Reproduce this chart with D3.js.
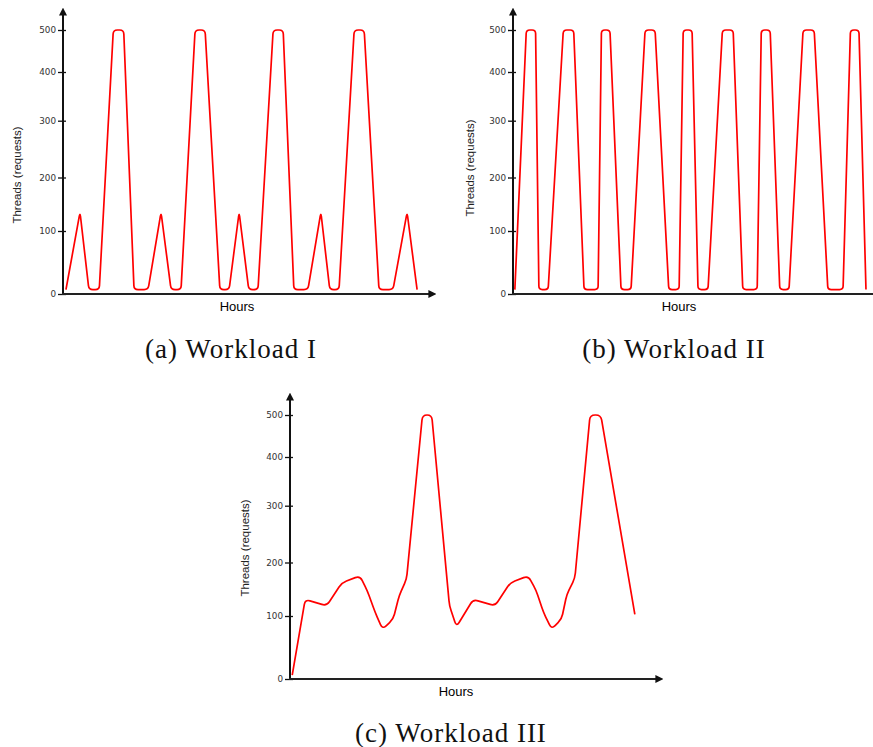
<!DOCTYPE html>
<html>
<head>
<meta charset="utf-8">
<script src="https://cdn.jsdelivr.net/npm/d3@7"></script>
<style>
  body { margin: 0; background: #fff; }
  svg { display: block; }
  .tick text { font-family: "DejaVu Sans", sans-serif; font-size: 8.8px; fill: #333; }
  .ylabel { font-family: "Liberation Sans", Arial, sans-serif; font-size: 11.5px; fill: #222; }
  .xlabel { font-family: "Liberation Sans", Arial, sans-serif; font-size: 13px; fill: #000; }
  .caption { font-family: "Liberation Serif", "Times New Roman", serif; font-size: 27px; letter-spacing: 1px; fill: #111; }
</style>
</head>
<body>
<div id="chartDiv"></div>
<script>
var width = 873;
var height = 747;

// y tick values
var yTicks = [0, 100, 200, 300, 400, 500];

// Workload I (hours as % of the horizon, threads)
var hoursA = [0.8, 4.6, 7.0, 9.8, 13.6, 16.4, 19.2, 23.0, 26.5, 29.2, 31.9, 35.7, 38.4, 42.4, 44.9, 47.6,
              50.2, 52.7, 56.8, 59.5, 62.4, 66.2, 69.7, 72.1, 74.6, 78.7, 81.4, 85.4, 89.2, 93.0, 95.7];
var threadsA = [7, 135, 7, 7, 500, 500, 7, 7, 135, 7, 7, 500, 500, 7, 7, 135,
                7, 7, 500, 500, 7, 7, 135, 7, 7, 500, 500, 7, 7, 135, 7];

// Workload II
var hoursB = [0.5, 3.6, 6.1, 7.0, 9.5, 13.6, 16.4, 19.2, 23.0, 23.9, 26.2, 29.2, 31.9, 35.7, 38.4, 42.1, 44.9,
              46.0, 48.4, 50.0, 52.7, 56.6, 59.5, 62.1, 66.0, 67.1, 69.5, 72.1, 74.6, 78.4, 81.4, 85.1, 89.2,
              91.2, 93.5, 95.4];
var threadsB = [7, 500, 500, 7, 7, 500, 500, 7, 7, 500, 500, 7, 7, 500, 500, 7, 7,
                500, 500, 7, 7, 500, 500, 7, 7, 500, 500, 7, 7, 500, 500, 7, 7,
                500, 500, 7];

// Workload III
var hoursC = [0.6, 4.1, 9.9, 14.0, 18.9, 20.9, 23.0, 25.0, 27.9, 29.5, 31.5, 35.8, 38.3, 43.1,
              45.0, 49.5, 55.4, 59.5, 64.4, 66.5, 68.5, 70.7, 73.4, 74.8, 77.0, 81.1, 84.0, 93.2];
var threadsC = [6, 131, 119, 162, 175, 147, 107, 79, 95, 138, 169, 500, 500, 119,
                83, 131, 119, 162, 175, 148, 107, 79, 95, 140, 171, 500, 500, 103];

var panels = [
  { hours: hoursA, threads: threadsA, x0: 63, y0: 294, arrowX: true, caption: "(a) Workload I",
    labelX: 17, labelY: 175, hoursX: 237, hoursY: 311, capX: 231, capY: 358, r: 4 },
  { hours: hoursB, threads: threadsB, x0: 513, y0: 294, arrowX: false, caption: "(b) Workload II",
    labelX: 470, labelY: 168, hoursX: 679, hoursY: 311, capX: 674, capY: 358, r: 3.5 },
  { hours: hoursC, threads: threadsC, x0: 290, y0: 679, arrowX: true, caption: "(c) Workload III",
    labelX: 245, labelY: 548, hoursX: 456, hoursY: 696, capX: 451, capY: 742, r: 5 }
];

// pixel offsets of the ticks above the zero line (axis is not evenly spaced)
var tickOffsets = [0, 63, 116.5, 173.3, 222, 264];
var axisLength = 370;

// polyline with small rounded corners
function roundedCurve(radius) {
  function Curve(context) { this._context = context; }
  Curve.prototype = {
    areaStart: function() {},
    areaEnd: function() {},
    lineStart: function() { this._pts = []; },
    point: function(x, y) { this._pts.push([+x, +y]); },
    lineEnd: function() {
      var p = this._pts, c = this._context, n = p.length;
      if (!n) return;
      c.moveTo(p[0][0], p[0][1]);
      for (var i = 1; i < n - 1; i++) {
        var ax = p[i][0] - p[i - 1][0], ay = p[i][1] - p[i - 1][1];
        var bx = p[i + 1][0] - p[i][0], by = p[i + 1][1] - p[i][1];
        var la = Math.sqrt(ax * ax + ay * ay), lb = Math.sqrt(bx * bx + by * by);
        var da = Math.min(radius, la / 2), db = Math.min(radius, lb / 2);
        c.lineTo(p[i][0] - ax / la * da, p[i][1] - ay / la * da);
        c.quadraticCurveTo(p[i][0], p[i][1], p[i][0] + bx / lb * db, p[i][1] + by / lb * db);
      }
      if (n > 1) c.lineTo(p[n - 1][0], p[n - 1][1]);
    }
  };
  return function(context) { return new Curve(context); };
}

var svg = d3.select("#chartDiv").append("svg")
    .attr("width", width)
    .attr("height", height);

var defs = svg.append("defs");
defs.append("marker")
    .attr("id", "arrow")
    .attr("viewBox", "0 0 10 10")
    .attr("refX", 2).attr("refY", 5)
    .attr("markerWidth", 4).attr("markerHeight", 4)
    .attr("orient", "auto")
  .append("path")
    .attr("d", "M0,0 L10,5 L0,10 Z")
    .attr("fill", "#111");

panels.forEach(function(p) {
  var x = d3.scaleLinear().domain([0, 100]).range([p.x0, p.x0 + axisLength]);
  var y = d3.scaleLinear().domain(yTicks).range(tickOffsets.map(function(o) { return p.y0 - o; }));

  var g = svg.append("g");

  // y axis
  var yAxis = d3.axisLeft(y).tickValues(yTicks).tickSizeInner(5).tickSizeOuter(0).tickPadding(2);
  var ya = g.append("g")
      .attr("transform", "translate(" + p.x0 + ",0)")
      .call(yAxis);
  ya.select(".domain").remove();
  ya.selectAll(".tick line").attr("x2", -5).attr("x1", 3).attr("stroke", "#111").attr("stroke-width", 1.3);

  g.append("line")
      .attr("x1", p.x0).attr("x2", p.x0)
      .attr("y1", p.y0 + 1).attr("y2", p.y0 - 280)
      .attr("stroke", "#111").attr("stroke-width", 2)
      .attr("marker-end", "url(#arrow)");

  // x axis
  var xl = g.append("line")
      .attr("x1", p.x0 - 1).attr("y1", p.y0)
      .attr("y2", p.y0)
      .attr("stroke", "#222").attr("stroke-width", 2);
  if (p.arrowX) {
    xl.attr("x2", p.x0 + axisLength - 3).attr("marker-end", "url(#arrow)");
  } else {
    xl.attr("x2", width);
  }

  // labels
  g.append("text")
      .attr("class", "ylabel")
      .attr("text-anchor", "middle")
      .attr("transform", "translate(" + p.labelX + "," + p.labelY + ") rotate(-90)")
      .attr("dy", "0.35em")
      .text("Threads (requests)");

  g.append("text")
      .attr("class", "xlabel")
      .attr("text-anchor", "middle")
      .attr("x", p.hoursX).attr("y", p.hoursY)
      .text("Hours");

  g.append("text")
      .attr("class", "caption")
      .attr("text-anchor", "middle")
      .attr("x", p.capX).attr("y", p.capY)
      .text(p.caption);

  // the series
  var line = d3.line()
      .x(function(d) { return x(d[0]); })
      .y(function(d) { return y(d[1]); })
      .curve(roundedCurve(p.r));

  g.append("path")
      .datum(d3.zip(p.hours, p.threads))
      .attr("fill", "none")
      .attr("stroke", "#f00")
      .attr("stroke-width", 1.7)
      .attr("stroke-linejoin", "round")
      .attr("d", line);
});
</script>
</body>
</html>
